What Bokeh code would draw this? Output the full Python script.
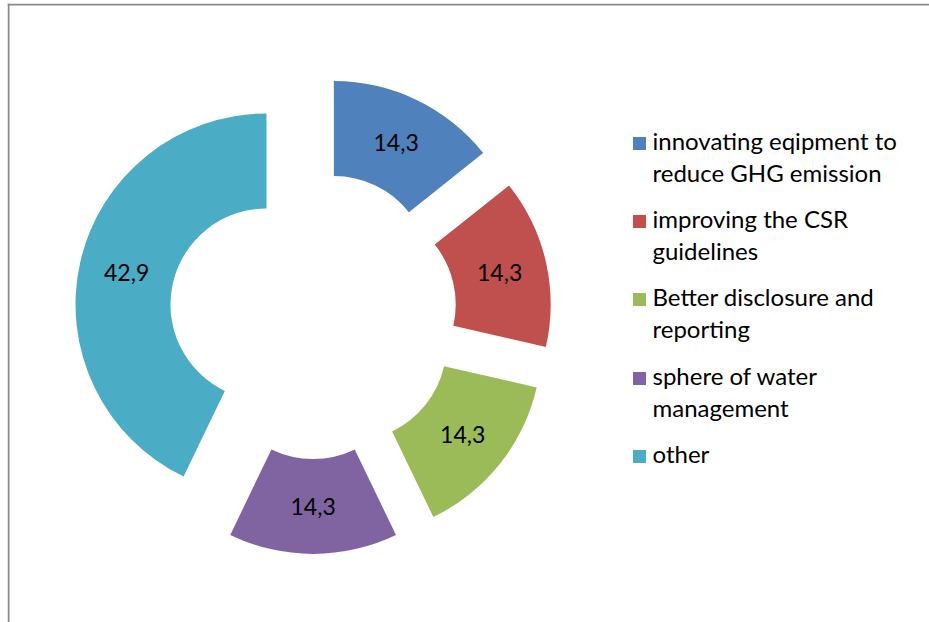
import math
from bokeh.plotting import figure
from bokeh.models import Range1d, Span, ColumnDataSource
from bokeh.core.properties import value
from bokeh.embed import file_html
from bokeh.resources import INLINE

# ---- data ----
categories = ["innovating eqipment to\nreduce GHG emission",
              "improving the CSR\nguidelines",
              "Better disclosure and\nreporting",
              "sphere of water\nmanagement",
              "other"]
values = [14.3, 14.3, 14.3, 14.3, 42.9]
labels = ["14,3", "14,3", "14,3", "14,3", "42,9"]
colors = ["#4F81BD", "#C0504D", "#9BBB59", "#8064A2", "#4BACC6"]

# ---- layout (pixel-like data units) ----
W, H = 922, 619
FONT = "Lato"
cx, cy = 305.6, 307.4
R_out, R_in, explode = 191.0, 96.0, 47.8

total = sum(values)
xs, ys, starts, ends, lx, ly = [], [], [], [], [], []
cum = 0.0
for v in values:
    a0 = math.pi / 2 - 2 * math.pi * cum / total
    cum += v
    a1 = math.pi / 2 - 2 * math.pi * cum / total
    mid = (a0 + a1) / 2
    x0 = cx + explode * math.cos(mid)
    y0 = cy + explode * math.sin(mid)
    xs.append(x0); ys.append(y0)
    starts.append(a1); ends.append(a0)
    rm = (R_out + R_in) / 2
    lx.append(x0 + rm * math.cos(mid)); ly.append(y0 + rm * math.sin(mid))

p = figure(width=W, height=H, output_backend="svg", toolbar_location=None,
           x_range=Range1d(0, W), y_range=Range1d(0, H),
           min_border=0, outline_line_color=None, background_fill_color="white",
           border_fill_color="white")
p.margin = (3, 0, 0, 7)
p.xaxis.visible = False
p.yaxis.visible = False
p.grid.visible = False

src = ColumnDataSource(dict(x=xs, y=ys, s=starts, e=ends, c=colors, lx=lx, ly=ly, t=labels))
p.annular_wedge(x="x", y="y", inner_radius=R_in, outer_radius=R_out,
                start_angle="s", end_angle="e", fill_color="c", line_color=None, source=src)
p.text(x="lx", y="ly", text="t", text_align="center", text_baseline="middle",
       text_font=value(FONT), text_font_size="23px", text_color="black", source=src)

# border (left/top visible part of chart frame)
p.add_layout(Span(location=1, dimension="height", line_color="#8a8a8a", line_width=2))
p.add_layout(Span(location=H - 1, dimension="width", line_color="#8a8a8a", line_width=2))

# legend (manual, multi-line entries)
entry_tops = [142, 220, 298, 377, 455]  # page y of first line middle
line_gap = 32
sq_x, sq_y, tx, ty, tt = [], [], [], [], []
for cat, ytop in zip(categories, entry_tops):
    sq_x.append(639 - 7); sq_y.append(622 - (ytop + 1))
    for k, line in enumerate(cat.split("\n")):
        tx.append(652 - 7); ty.append(622 - (ytop - 2 + k * line_gap)); tt.append(line)
p.rect(x=sq_x, y=sq_y, width=13, height=13, fill_color=colors, line_color=None)
p.text(x=tx, y=ty, text=tt, text_align="left", text_baseline="middle",
       text_font=value(FONT), text_font_size="24px", text_color="black")

open("out.html", "w").write(file_html(p, INLINE))
